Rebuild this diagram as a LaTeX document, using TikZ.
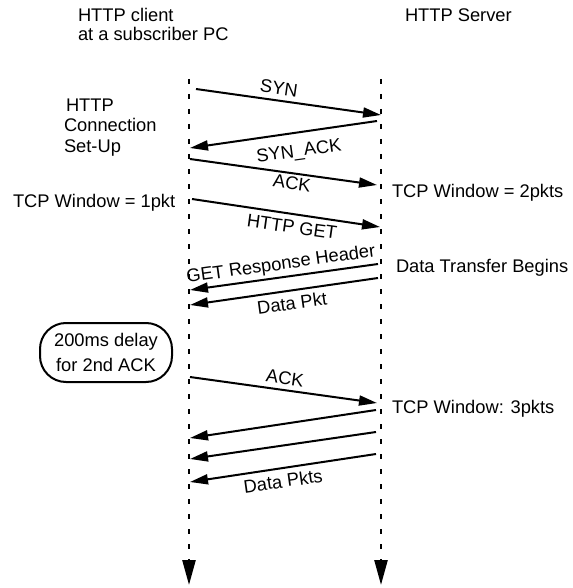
\documentclass[tikz,border=0pt]{standalone}
\usepackage{fontspec}
\setmainfont{Liberation Sans}
\usetikzlibrary{arrows.meta}
\begin{document}
\begin{tikzpicture}[x=1pt,y=-1pt,
  every node/.style={font=\fontsize{18.3}{20}\selectfont, inner sep=0pt, outer sep=0pt},
  msg/.style={line width=2pt, -{Triangle[length=18pt,width=10pt]}},
  life/.style={line width=2.5pt, dash pattern=on 5pt off 10pt, -{Triangle[length=25pt,width=13pt]}},
  txt/.style={anchor=base west},
  lbl/.style={anchor=center},
  note/.style={draw, line width=2pt, rounded corners=26pt, minimum width=132pt, minimum height=59pt, align=center, font=\fontsize{18.3}{25}\selectfont}]
\useasboundingbox (0,0) rectangle (572,588);

% titles
\node[txt] (cl1) at (78,22) {HTTP client};
\node[txt] (cl2) at (78,41) {at a subscriber PC};
\node[txt] (sv) at (405,22) {HTTP Server};

% lifelines
\coordinate (Ltop) at (189,79);
\coordinate (Lbot) at (189,585);
\coordinate (Rtop) at (381,79);
\coordinate (Rbot) at (381,585);
\draw[life] (Ltop) -- (Lbot);
\draw[life] (Rtop) -- (Rbot);

% side notes
\node[txt] (h1) at (66,112) {HTTP};
\node[txt] (h2) at (64,132) {Connection};
\node[txt] (h3) at (64,153) {Set-Up};
\node[txt] (w1) at (13,207) {TCP Window = 1pkt};
\node[txt] (w2) at (392,197) {TCP Window = 2pkts};
\node[txt] (dt) at (396,272) {Data Transfer Begins};
\node[txt] (w3) at (392,413) {TCP Window: 3pkts};
\node[note] (delay) at (106,352.5) {200ms delay\\for 2nd ACK};

% message end points
\coordinate (a1) at (196,89);  \coordinate (b1) at (381,115);
\coordinate (a2) at (377,121); \coordinate (b2) at (190,148);
\coordinate (a3) at (190,159); \coordinate (b3) at (377,185);
\coordinate (a4) at (192,199); \coordinate (b4) at (380,227);
\coordinate (a5) at (378,264); \coordinate (b5) at (190,290);
\coordinate (a6) at (378,278); \coordinate (b6) at (190,305);
\coordinate (a7) at (190,377); \coordinate (b7) at (377,403);
\coordinate (a8) at (376,410); \coordinate (b8) at (190,438);
\coordinate (a9) at (376,432); \coordinate (b9) at (190,459);
\coordinate (a10) at (376,454); \coordinate (b10) at (190,482);

\draw[msg] (a1) -- (b1);
\draw[msg] (a2) -- (b2);
\draw[msg] (a3) -- (b3);
\draw[msg] (a4) -- (b4);
\draw[msg] (a5) -- (b5);
\draw[msg] (a6) -- (b6);
\draw[msg] (a7) -- (b7);
\draw[msg] (a8) -- (b8);
\draw[msg] (a9) -- (b9);
\draw[msg] (a10) -- (b10);

% message labels
\node[lbl, rotate=-8] (l1) at (279,88) {SYN};
\node[lbl, rotate=8] (l2) at (299,152) {SYN\_ACK};
\node[lbl, rotate=-8] (l3) at (292,183) {ACK};
\node[lbl, rotate=-8] (l4) at (292,227) {HTTP GET};
\node[lbl, rotate=8] (l5) at (281,265) {GET Response Header};
\node[lbl, rotate=8] (l6) at (292,303) {Data Pkt};
\node[lbl, rotate=-8] (l7) at (285,378) {ACK};
\node[lbl, rotate=8] (l8) at (283,481) {Data Pkts};
\end{tikzpicture}
\end{document}
